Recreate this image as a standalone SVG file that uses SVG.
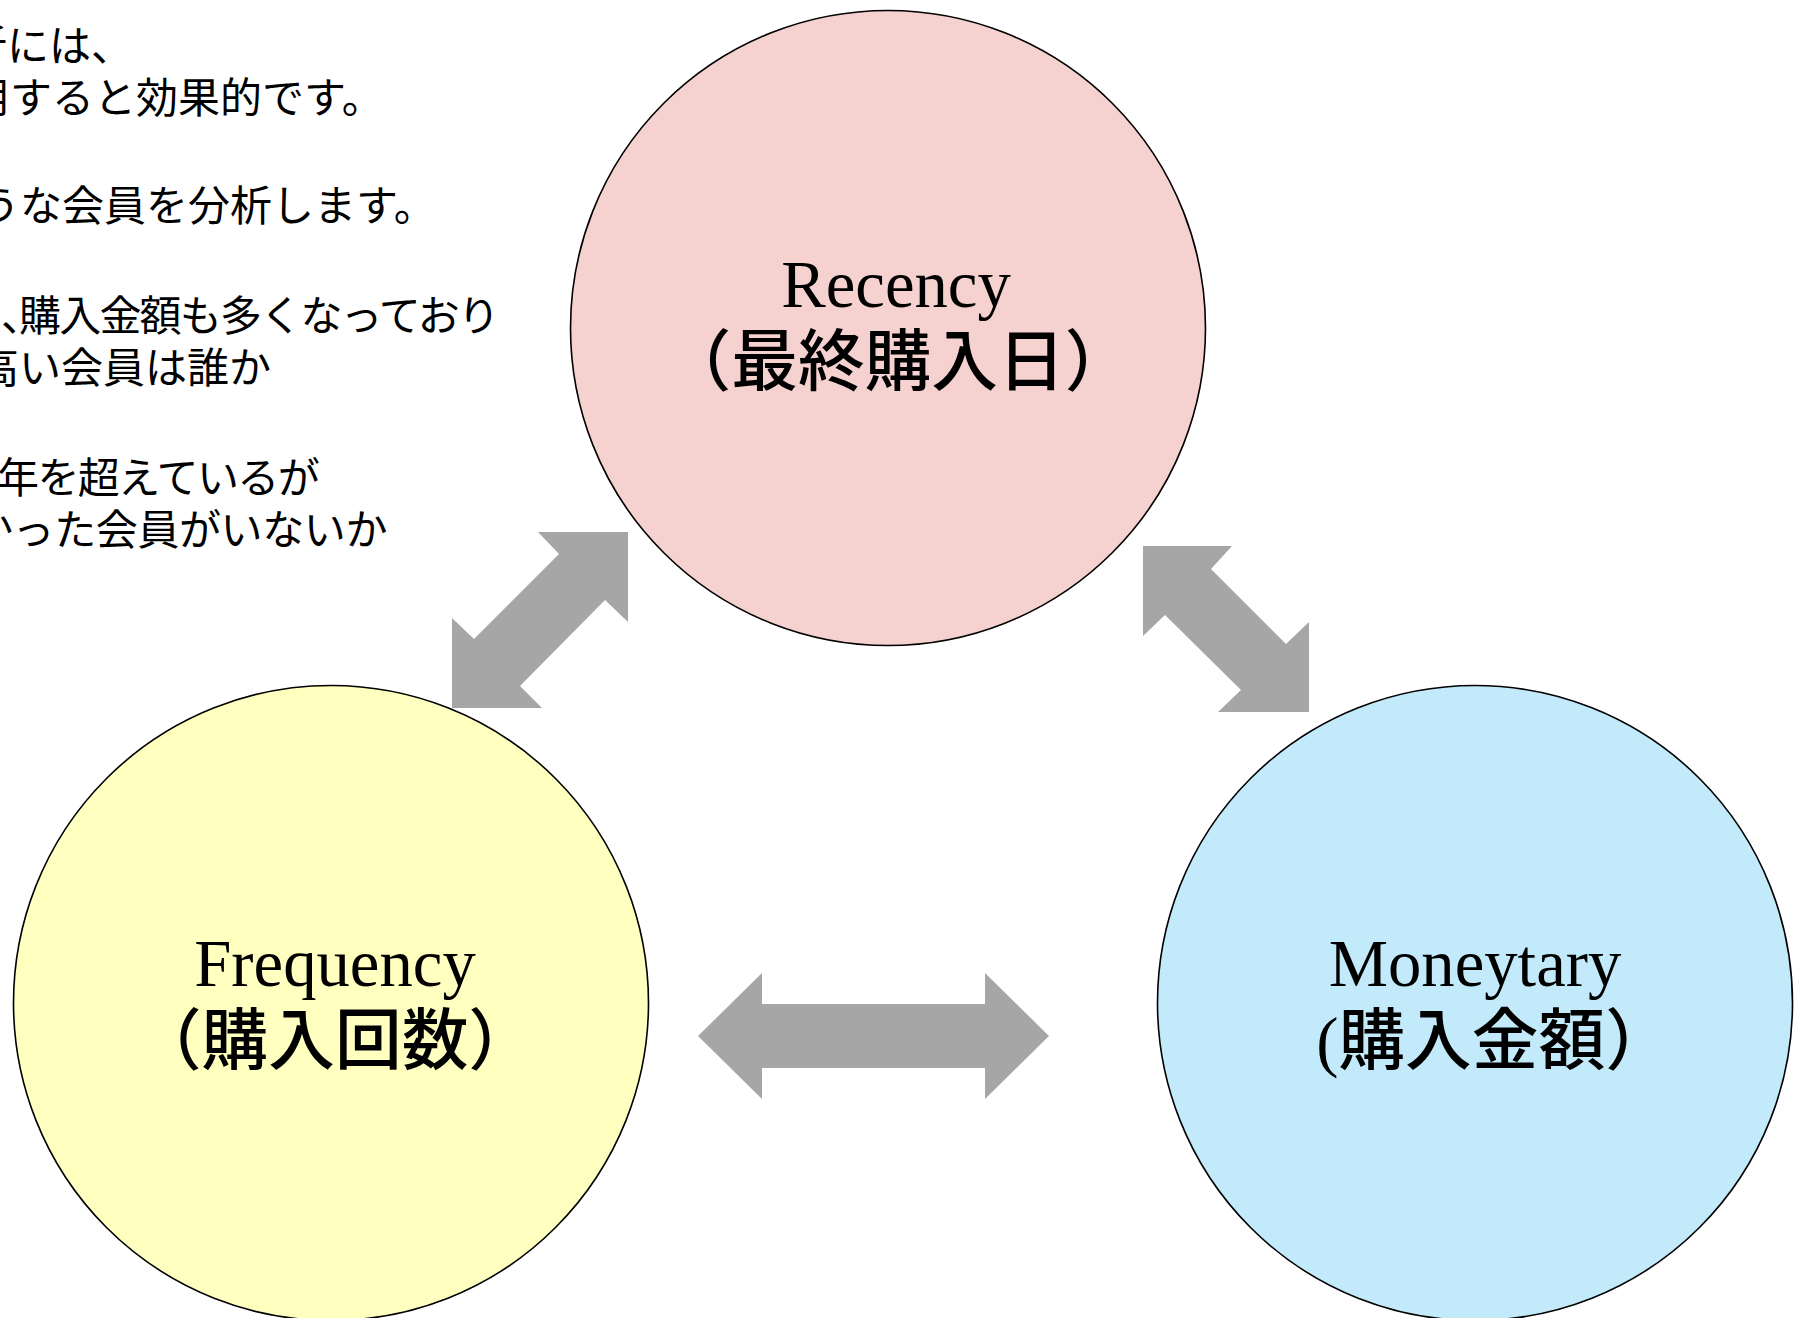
<svg xmlns="http://www.w3.org/2000/svg" width="1794" height="1318" viewBox="0 0 1794 1318">
<style>
.note{font-family:"Noto Sans CJK JP","Noto Sans CJK SC",sans-serif;font-size:42px;fill:#000}
.lbl{font-family:"Liberation Serif","Noto Sans CJK JP",serif;font-size:66.7px;fill:#000;text-anchor:middle}
.jp{font-weight:500}
.circ{stroke:#000;stroke-width:1.6}
.arr{fill:#A6A6A6;stroke:none}
</style>
<rect width="1794" height="1318" fill="#fff"/>
<g id="notes">
<text class="note" x="-35" y="61">析には、</text>
<text class="note" x="-32" y="113">用すると効果的です。</text>
<text class="note" x="-22" y="221">うな会員を分析します。</text>
<text class="note" y="331"><tspan x="1">、</tspan><tspan x="19" letter-spacing="-1.8">購入金額も多くなっており</tspan></text>
<text class="note" x="-23" y="383">高い会員は誰か</text>
<text class="note" x="-3" y="493" letter-spacing="-1.6">年を超えているが</text>
<text class="note" x="-29" y="545" letter-spacing="-0.4">かった会員がいないか</text>
</g>
<g id="connectors">
<polygon class="arr" points="628,532 538,532 559,554 474,639 452,618 452,708 542,708 520,686 605,600 628,622"/>
<polygon class="arr" points="1143,546 1232,546 1211,569 1286,644 1309,622 1309,712 1218,712 1241,690 1165,615 1143,636"/>
<polygon class="arr" points="698,1036 762,973 762,1004 985,1004 985,973 1049,1036 985,1099 985,1068 762,1068 762,1099"/>
</g>
<g id="recency">
<circle class="circ" cx="888" cy="328" r="317.5" fill="#F5D1D0"/>
<text class="lbl" x="896" y="307">Recency</text>
<text class="lbl jp" x="898" y="385">（最終購入日）</text>
</g>
<g id="frequency">
<circle class="circ" cx="331" cy="1003" r="317.5" fill="#FFFFC0"/>
<text class="lbl" x="335" y="986">Frequency</text>
<text class="lbl jp" x="335" y="1064">（購入回数）</text>
</g>
<g id="moneytary">
<circle class="circ" cx="1475" cy="1003" r="317.5" fill="#C2EAFA"/>
<text class="lbl" x="1475" y="986">Moneytary</text>
<text class="lbl jp" x="1494" y="1064">(購入金額）</text>
</g>
</svg>
